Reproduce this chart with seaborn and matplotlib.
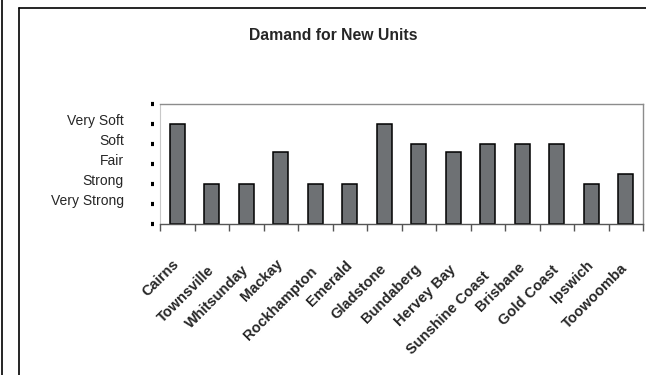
import matplotlib
matplotlib.use("Agg")
import matplotlib.pyplot as plt
import matplotlib.transforms as mtransforms
from matplotlib.lines import Line2D
import seaborn as sns

# Survey results: demand rating per region (1 = Very Strong ... 5 = Very Soft)
regions = ["Cairns", "Townsville", "Whitsunday", "Mackay", "Rockhampton",
           "Emerald", "Gladstone", "Bundaberg", "Hervey Bay", "Sunshine Coast",
           "Brisbane", "Gold Coast", "Ipswich", "Toowoomba"]
demand = [5, 2, 2, 3.6, 2, 2, 5, 4, 3.6, 4, 4, 4, 2, 2.5]
rating_labels = ["", "Very Strong", "Strong", "Fair", "Soft", "Very Soft", ""]

sns.set_style("white")
plt.rcParams["font.family"] = ["Liberation Sans", "DejaVu Sans"]

fig = plt.figure(figsize=(6.46, 3.75), dpi=100)
ax = fig.add_axes([160 / 646, 1 - 224 / 375, 483 / 646, 120 / 375])

sns.barplot(x=regions, y=demand, color="#6e7174", saturation=1,
            edgecolor="black", linewidth=1.1, width=0.44, ax=ax)

ax.set_ylim(0, len(rating_labels) - 1)
ax.set_xlim(-0.5, len(regions) - 0.5)

# y axis: short black dashes offset to the left of the plot frame
ax.set_yticks(range(len(rating_labels)))
ax.set_yticklabels(rating_labels, fontsize=6.9, color="#222222")
ax.spines["left"].set_position(("outward", 4))
ax.spines["left"].set_visible(False)
ax.tick_params(axis="y", direction="out", length=2, width=3,
               color="black", pad=20, left=True)
shift = mtransforms.ScaledTranslation(0, 3.5 / 72, fig.dpi_scale_trans)
for lbl in ax.get_yticklabels():
    lbl.set_transform(lbl.get_transform() + shift)

# plot frame
ax.plot([0, 0], [0, 1], transform=ax.transAxes, color="#c8c8c8",
        lw=0.8, clip_on=False)
for side in ("top", "right"):
    ax.spines[side].set_visible(True)
    ax.spines[side].set_color("#8c8c8c")
    ax.spines[side].set_linewidth(1.0)
ax.spines["bottom"].set_color("#555555")
ax.spines["bottom"].set_linewidth(1.0)

# x axis: ticks between categories, rotated bold labels
ax.set_xticks([i - 0.5 for i in range(len(regions) + 1)], minor=True)
ax.tick_params(axis="x", which="minor", direction="out", length=5,
               width=1.0, color="#555555", bottom=True)
ax.tick_params(axis="x", which="major", length=0, pad=27, bottom=True)
ax.set_xticks(range(len(regions)))
ax.set_xticklabels(regions, rotation=45, ha="right", va="center",
                   rotation_mode="anchor", fontweight="bold", fontsize=10.5)
# longer names sit a little lower
for lbl in ax.get_xticklabels():
    drop = 1.15 * max(len(lbl.get_text()) - 6, 0)
    lbl.set_transform(lbl.get_transform() + mtransforms.ScaledTranslation(
        0, -drop / 72, fig.dpi_scale_trans))
ax.set_xlabel("")
ax.set_ylabel("")

fig.text(333 / 646, 1 - 36 / 375, "Damand for New Units", ha="center",
         va="center", fontsize=11.3, fontweight="bold")

# outer chart borders
fig.add_artist(Line2D([1.5 / 646, 1.5 / 646], [0, 1], color="black", lw=1.2))
fig.add_artist(Line2D([19 / 646, 19 / 646], [0, 1 - 8 / 375],
                      color="black", lw=1.2))
fig.add_artist(Line2D([19 / 646, 1], [1 - 8 / 375, 1 - 8 / 375],
                      color="black", lw=1.2))

fig.savefig("out.png", dpi=100)
